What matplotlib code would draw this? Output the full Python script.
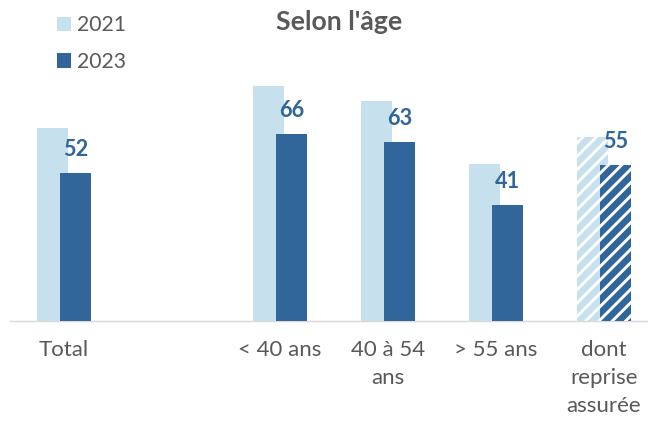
import matplotlib
matplotlib.use("Agg")
import matplotlib.pyplot as plt
from matplotlib.patches import Patch
import numpy as np

categories = ["Total", "", "< 40 ans", "40 à 54\nans", "> 55 ans", "dont\nreprise\nassurée"]
values_2021 = [68, None, 83, 77.5, 55.5, 65]
values_2023 = [52, None, 66, 63, 41, 55]
labels_2023 = ["52", None, "66", "63", "41", "55"]
hatched = [False, False, False, False, False, True]
series_names = ["2021", "2023"]
title = "Selon l'âge"

LIGHT = "#C7E0EE"
DARK = "#31669A"
GRAY = "#595959"
FONT = ["Lato", "DejaVu Sans"]

DPI = 80
W, H = 648, 421
plt.rcParams["font.family"] = FONT
plt.rcParams["hatch.linewidth"] = 2.6

fig = plt.figure(figsize=(W / DPI, H / DPI), dpi=DPI)
ax_left, ax_right = 10 / W, 1.0
ax_bottom = 1 - 320.5 / H
ax_height = 282.7 / H
ax = fig.add_axes([ax_left, ax_bottom, ax_right - ax_left, ax_height])

x = np.arange(len(categories))
bw = 0.287
off = 0.108

for i in range(len(categories)):
    if values_2021[i] is None:
        continue
    h = "//" if hatched[i] else None
    ec = "white" if hatched[i] else LIGHT
    ax.bar(x[i] - off, values_2021[i], bw, color=LIGHT, hatch=h, edgecolor=ec, linewidth=0, zorder=2)
    ax.bar(x[i] + off, values_2023[i], bw, color=DARK, hatch=h, edgecolor=ec if hatched[i] else DARK, linewidth=0, zorder=3)
    ax.annotate(labels_2023[i], (x[i] + off, values_2023[i]), xytext=(0, 17 * 72 / DPI),
                textcoords="offset points", ha="center", va="baseline",
                fontsize=19.5, fontweight="bold", color=DARK, zorder=4)

ax.set_xlim(-0.5, (W - 64) / 108)
ax.set_ylim(0, 100)
ax.set_xticks(x)
ax.set_xticklabels(categories, fontsize=20, color=GRAY, linespacing=1.5)
ax.tick_params(axis="x", length=0, pad=18)
ax.set_yticks([])
for s in ["top", "left", "right"]:
    ax.spines[s].set_visible(False)
ax.spines["bottom"].set_color("#D9D9D9")
ax.spines["bottom"].set_linewidth(1.3)

fig.text(339 / W, 1 - 30 / H, title, ha="center", va="baseline",
         fontsize=24, fontweight="bold", color=GRAY)

handles = [Patch(facecolor=LIGHT, edgecolor="none"), Patch(facecolor=DARK, edgecolor="none")]
fig.legend(handles, series_names, loc="upper left", bbox_to_anchor=(49 / W, 1 - 7 / H),
           frameon=False, fontsize=19, labelcolor=GRAY, handlelength=0.65, handleheight=0.65,
           handletextpad=0.3, labelspacing=0.78, borderaxespad=0)

fig.savefig("out.png", dpi=DPI)
